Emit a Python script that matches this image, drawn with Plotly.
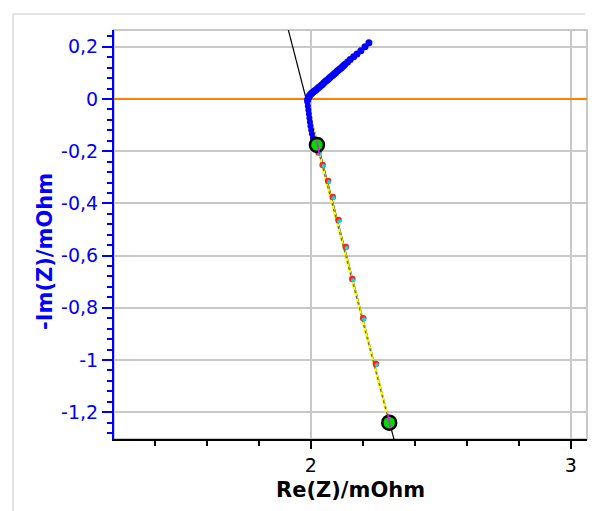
import plotly.graph_objects as go

# ---- data ----
blue_up_x = [1.988, 1.990, 1.9935, 1.996, 2.001, 2.005, 2.010, 2.014, 2.019, 2.024, 2.029, 2.034,
             2.040, 2.045, 2.050, 2.055, 2.060, 2.065, 2.070, 2.075, 2.081, 2.086, 2.091, 2.096,
             2.101, 2.106, 2.112, 2.117, 2.122, 2.127, 2.132, 2.142, 2.152, 2.165, 2.178, 2.193,
             2.209, 2.224]
blue_up_y = [-0.004, 0.002, 0.009, 0.014, 0.019, 0.023, 0.027, 0.031, 0.034, 0.038, 0.043, 0.047,
             0.052, 0.056, 0.061, 0.066, 0.070, 0.074, 0.079, 0.083, 0.088, 0.092, 0.097, 0.101,
             0.106, 0.110, 0.115, 0.119, 0.124, 0.128, 0.133, 0.142, 0.151, 0.162, 0.172, 0.185,
             0.200, 0.216]
blue_dn_x = [1.987, 1.989, 1.991, 1.993, 1.995, 1.997, 1.999, 2.002, 2.005, 2.009, 2.013]
blue_dn_y = [-0.011, -0.027, -0.042, -0.057, -0.073, -0.088, -0.103, -0.119, -0.134, -0.149, -0.165]

red_x = [2.030, 2.046, 2.067, 2.085, 2.107, 2.135, 2.160, 2.202, 2.251]
red_y = [-0.205, -0.253, -0.314, -0.375, -0.464, -0.567, -0.690, -0.840, -1.015]
cyan_x = [2.033, 2.049, 2.070, 2.088, 2.110, 2.138, 2.163, 2.205, 2.254]
cyan_y = [-0.209, -0.257, -0.318, -0.379, -0.468, -0.571, -0.694, -0.844, -1.019]

fit_x = [1.8919, 2.3322]
fit_y = [0.35, -1.35]

seg_x = [1.986, 2.024, 2.302]
seg_y = [0.0, -0.176, -1.240]

dot_x = [2.024, 2.302]
dot_y = [-0.176, -1.240]

mag1_x = [2.023, 2.034]
mag1_y = [-0.160, -0.215]
mag2_x = [2.296, 2.307]
mag2_y = [-1.205, -1.262]

circ_x = [2.024, 2.302]
circ_y = [-0.176, -1.240]

y_ticks = [0.2, 0, -0.2, -0.4, -0.6, -0.8, -1, -1.2]
y_labels = ["0,2", "0", "-0,2", "-0,4", "-0,6", "-0,8", "-1", "-1,2"]
x_ticks = [2, 3]
x_labels = ["2", "3"]

BLUE = "#0000FF"
GRID = "#c8c8c8"

fig = go.Figure()
fig.add_trace(go.Scatter(x=fit_x, y=fit_y, mode="lines", line=dict(color="black", width=1.2)))
fig.add_trace(go.Scatter(x=seg_x, y=seg_y, mode="lines", line=dict(color="#FFFF00", width=2.5)))
fig.add_trace(go.Scatter(x=dot_x, y=dot_y, mode="lines",
                         line=dict(color="#666677", width=1.3, dash="dot")))
fig.add_trace(go.Scatter(x=red_x, y=red_y, mode="markers",
                         marker=dict(color="#FF2020", size=6.5)))
fig.add_trace(go.Scatter(x=cyan_x, y=cyan_y, mode="markers",
                         marker=dict(color="#00E0E0", size=4)))
fig.add_trace(go.Scatter(x=blue_up_x, y=blue_up_y, mode="markers",
                         marker=dict(color=BLUE, size=7)))
fig.add_trace(go.Scatter(x=blue_dn_x, y=blue_dn_y, mode="markers",
                         marker=dict(color=BLUE, size=6)))
fig.add_trace(go.Scatter(x=circ_x, y=circ_y, mode="markers",
                         marker=dict(color="#00DD00", size=14, line=dict(color="black", width=2.5))))
fig.add_trace(go.Scatter(x=mag1_x, y=mag1_y, mode="lines", line=dict(color="#FF00FF", width=1.5)))
fig.add_trace(go.Scatter(x=mag2_x, y=mag2_y, mode="lines", line=dict(color="#FF00FF", width=1.5)))

fig.update_layout(
    width=595, height=511,
    margin=dict(l=114, r=8, t=30, b=72),
    paper_bgcolor="white", plot_bgcolor="white",
    showlegend=False,
    font=dict(family="DejaVu Sans", size=19, color="black"),
    xaxis=dict(
        range=[1.2435, 3.0627], tickvals=x_ticks, ticktext=x_labels,
        ticks="outside", ticklen=8, tickwidth=2, tickcolor="black",
        showgrid=True, gridcolor=GRID, gridwidth=2,
        showline=True, linecolor="black", linewidth=2,
        zeroline=False,
        tickfont=dict(family="DejaVu Sans", size=19, color="black"),
        minor=dict(dtick=0.2, tick0=0, ticks="outside", ticklen=5, tickwidth=2,
                   tickcolor="black", showgrid=False),
    ),
    yaxis=dict(
        range=[-1.3027, 0.2644], tickvals=y_ticks, ticktext=y_labels,
        ticks="outside", ticklen=10, tickwidth=2, tickcolor=BLUE,
        showgrid=True, gridcolor=GRID, gridwidth=2,
        showline=True, linecolor=BLUE, linewidth=2,
        zeroline=True, zerolinecolor="#FF8000", zerolinewidth=2,
        tickfont=dict(family="DejaVu Sans", size=19, color=BLUE),
        minor=dict(dtick=0.04, tick0=0, ticks="outside", ticklen=5, tickwidth=2,
                   tickcolor=BLUE, showgrid=False),
    ),
    shapes=[
        dict(type="rect", xref="paper", yref="paper", x0=0, x1=1, y0=0, y1=1,
             line=dict(color=GRID, width=2), layer="below"),
        dict(type="line", xref="paper", yref="paper", x0=-0.2135, x1=0.9958, y0=1.0391, y1=1.0391,
             line=dict(color=GRID, width=1)),
        dict(type="line", xref="paper", yref="paper", x0=-0.2135, x1=-0.2135, y0=-0.2, y1=1.0391,
             line=dict(color=GRID, width=1)),
    ],
    annotations=[
        dict(text="<b>-Im(Z)/mOhm</b>", xref="paper", yref="paper", x=-0.1459, y=0.4597,
             textangle=-90, showarrow=False, xanchor="center", yanchor="middle",
             font=dict(family="DejaVu Sans", size=21, color=BLUE)),
        dict(text="<b>Re(Z)/mOhm</b>", xref="paper", yref="paper", x=0.499, y=-0.1247,
             showarrow=False, xanchor="center", yanchor="middle",
             font=dict(family="DejaVu Sans", size=21, color="black")),
    ],
)

fig.write_html("out.html")
